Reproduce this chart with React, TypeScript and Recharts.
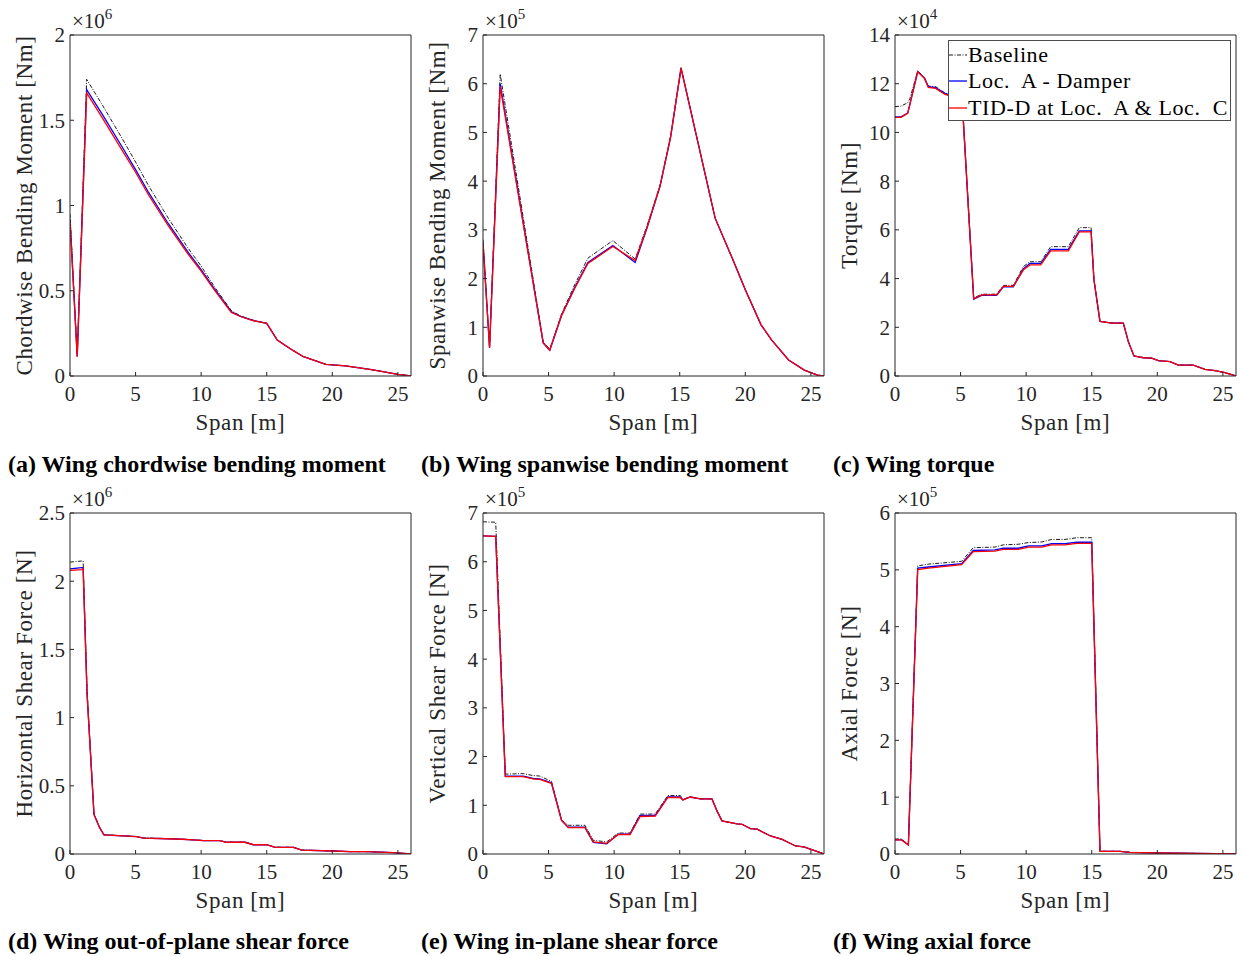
import { LineChart, Line, XAxis, YAxis, Legend, Label } from 'recharts'

const SPAN_TICKS = [0, 5, 10, 15, 20, 25]

// (a) chordwise bending moment, x1e6 Nm
const SPAN_A = [0, 0.55, 1.27, 2.5, 4, 5, 6, 7.5, 9, 10, 11, 12.3, 13, 14, 15, 15.8, 17, 17.8, 19.5, 21, 23, 25, 26]
const BASE_A = [0.95, 0.12, 1.74, 1.585, 1.39, 1.255, 1.115, 0.925, 0.75, 0.645, 0.525, 0.383, 0.352, 0.327, 0.309, 0.212, 0.15, 0.114, 0.069, 0.059, 0.037, 0.01, 0]
const LOCA_A = [0.92, 0.115, 1.68, 1.53, 1.34, 1.21, 1.075, 0.893, 0.726, 0.624, 0.512, 0.377, 0.35, 0.325, 0.309, 0.211, 0.15, 0.113, 0.068, 0.059, 0.037, 0.01, 0]
const TIDD_A = [0.91, 0.113, 1.66, 1.51, 1.32, 1.195, 1.06, 0.88, 0.715, 0.615, 0.505, 0.373, 0.349, 0.324, 0.309, 0.211, 0.15, 0.113, 0.068, 0.059, 0.037, 0.01, 0]
const YTICKS_A = [0, 0.5, 1, 1.5, 2]

// (b) spanwise bending moment, x1e5 Nm
const SPAN_B = [0, 0.5, 1.31, 4.59, 5.09, 6, 7, 8, 9.9, 11.6, 12.5, 13.5, 14.3, 15.1, 17.7, 19, 20, 21.2, 22, 23.3, 24.5, 25.5, 26]
const BASE_B = [2.8, 0.6, 6.2, 0.7, 0.55, 1.28, 1.88, 2.42, 2.78, 2.4, 3.08, 3.92, 4.92, 6.33, 3.24, 2.42, 1.77, 1.05, 0.74, 0.33, 0.12, 0.02, 0]
const LOCA_B = [2.74, 0.58, 6.0, 0.68, 0.53, 1.25, 1.82, 2.33, 2.68, 2.33, 3.03, 3.9, 4.9, 6.32, 3.24, 2.42, 1.77, 1.05, 0.74, 0.33, 0.12, 0.02, 0]
const TIDD_B = [2.72, 0.58, 5.94, 0.68, 0.53, 1.25, 1.8, 2.31, 2.66, 2.37, 3.05, 3.9, 4.9, 6.32, 3.24, 2.42, 1.77, 1.05, 0.74, 0.33, 0.12, 0.02, 0]
const YTICKS_B = [0, 1, 2, 3, 4, 5, 6, 7]

// (c) torque, x1e4 Nm
const SPAN_C = [0, 0.46, 0.97, 1.14, 1.73, 2.24, 2.54, 3.1, 3.81, 4.5, 5.12, 6.0, 6.6, 7.75, 8.26, 9.02, 9.78, 10.29, 11.11, 11.87, 13.22, 14.05, 14.95, 15.17, 15.63, 16.52, 17.41, 17.79, 18.22, 18.93, 19.57, 20.08, 20.97, 21.6, 22.74, 23.63, 24.4, 25.16, 26]
const BASE_C = [11.06, 11.08, 11.22, 11.4, 12.52, 12.25, 11.9, 11.88, 11.62, 11.5, 11.35, 3.2, 3.36, 3.36, 3.72, 3.72, 4.49, 4.69, 4.69, 5.31, 5.31, 6.09, 6.09, 3.96, 2.25, 2.18, 2.18, 1.42, 0.83, 0.76, 0.73, 0.63, 0.59, 0.45, 0.45, 0.27, 0.22, 0.14, 0]
const LOCA_C = [10.64, 10.64, 10.8, 11.17, 12.5, 12.24, 11.88, 11.84, 11.6, 11.48, 11.32, 3.15, 3.31, 3.31, 3.66, 3.66, 4.4, 4.62, 4.62, 5.2, 5.2, 5.96, 5.96, 3.94, 2.24, 2.17, 2.17, 1.41, 0.82, 0.75, 0.73, 0.63, 0.59, 0.45, 0.45, 0.27, 0.22, 0.14, 0]
const TIDD_C = [10.62, 10.62, 10.78, 11.15, 12.49, 12.22, 11.85, 11.81, 11.56, 11.45, 11.3, 3.17, 3.33, 3.33, 3.68, 3.68, 4.35, 4.56, 4.56, 5.14, 5.14, 5.92, 5.92, 3.94, 2.24, 2.17, 2.17, 1.41, 0.82, 0.75, 0.73, 0.63, 0.59, 0.45, 0.45, 0.27, 0.22, 0.14, 0]
const YTICKS_C = [0, 2, 4, 6, 8, 10, 12, 14]

// (d) out-of-plane (horizontal) shear, x1e6 N
const SPAN_D = [0, 0.89, 1.0, 1.3, 1.83, 2.24, 2.59, 5.08, 5.6, 8.13, 9.4, 10.17, 11.4, 11.94, 13.34, 13.98, 15.0, 15.63, 17.03, 17.66, 20.08, 21.35, 22.6, 24.65, 26]
const BASE_D = [2.14, 2.148, 2.15, 1.2, 0.295, 0.2, 0.142, 0.128, 0.118, 0.111, 0.104, 0.099, 0.099, 0.087, 0.087, 0.069, 0.069, 0.05, 0.05, 0.03, 0.022, 0.017, 0.017, 0.01, 0]
const LOCA_D = [2.09, 2.1, 2.1, 1.18, 0.29, 0.196, 0.14, 0.127, 0.117, 0.11, 0.103, 0.098, 0.098, 0.086, 0.086, 0.068, 0.068, 0.049, 0.049, 0.029, 0.022, 0.017, 0.017, 0.01, 0]
const TIDD_D = [2.079, 2.085, 2.095, 1.17, 0.29, 0.196, 0.14, 0.127, 0.117, 0.11, 0.103, 0.098, 0.098, 0.086, 0.086, 0.068, 0.068, 0.049, 0.049, 0.029, 0.022, 0.017, 0.017, 0.01, 0]
const YTICKS_D = [0, 0.5, 1, 1.5, 2, 2.5]

// (e) in-plane (vertical) shear, x1e5 N
const SPAN_E = [0, 0.97, 1.7, 3.06, 3.82, 4.33, 5.22, 5.99, 6.5, 7.77, 8.41, 9.43, 10.32, 11.21, 11.98, 13.13, 14.09, 15.04, 15.24, 15.8, 16.57, 17.46, 17.84, 18.22, 19.37, 19.75, 20.39, 20.9, 21.92, 22.81, 23.83, 24.47, 25.23, 26]
const BASE_E = [6.82, 6.81, 1.64, 1.65, 1.61, 1.6, 1.49, 0.7, 0.59, 0.59, 0.28, 0.25, 0.43, 0.43, 0.82, 0.82, 1.2, 1.2, 1.12, 1.17, 1.13, 1.13, 0.885, 0.68, 0.62, 0.61, 0.52, 0.51, 0.37, 0.3, 0.165, 0.145, 0.075, 0]
const LOCA_E = [6.53, 6.52, 1.6, 1.6, 1.55, 1.54, 1.46, 0.69, 0.55, 0.55, 0.24, 0.21, 0.41, 0.41, 0.79, 0.79, 1.17, 1.17, 1.11, 1.17, 1.13, 1.13, 0.885, 0.68, 0.62, 0.61, 0.52, 0.51, 0.37, 0.3, 0.165, 0.145, 0.075, 0]
const TIDD_E = [6.53, 6.52, 1.59, 1.59, 1.54, 1.53, 1.45, 0.69, 0.54, 0.54, 0.25, 0.22, 0.4, 0.4, 0.77, 0.78, 1.16, 1.16, 1.11, 1.17, 1.13, 1.13, 0.885, 0.68, 0.62, 0.61, 0.52, 0.51, 0.37, 0.3, 0.165, 0.145, 0.075, 0]
const YTICKS_E = [0, 1, 2, 3, 4, 5, 6, 7]

// (f) axial force, x1e5 N
const SPAN_F = [0, 0.5, 1.02, 1.73, 2.54, 5.08, 5.97, 7.62, 8.26, 9.4, 10.17, 11.19, 11.95, 12.97, 13.85, 15.0, 15.63, 17.15, 17.9, 20.08, 23, 26]
const BASE_F = [0.264, 0.264, 0.165, 5.07, 5.1, 5.15, 5.39, 5.4, 5.44, 5.45, 5.48, 5.49, 5.535, 5.535, 5.565, 5.565, 0.05, 0.048, 0.03, 0.018, 0.01, 0]
const LOCA_F = [0.25, 0.25, 0.16, 5.03, 5.05, 5.11, 5.34, 5.35, 5.38, 5.38, 5.42, 5.42, 5.46, 5.46, 5.485, 5.485, 0.047, 0.047, 0.03, 0.018, 0.01, 0]
const TIDD_F = [0.247, 0.247, 0.159, 5.006, 5.03, 5.09, 5.32, 5.33, 5.36, 5.36, 5.4, 5.4, 5.44, 5.44, 5.465, 5.465, 0.047, 0.047, 0.03, 0.018, 0.01, 0]
const YTICKS_F = [0, 1, 2, 3, 4, 5, 6]

const SERIES = [
  { key: 'base', name: 'Baseline', color: '#000000', width: 0.9, dash: '4 1.5 1 1.5' },
  { key: 'locA', name: 'Loc.  A - Damper', color: '#0000ff', width: 1.3, dash: undefined },
  { key: 'tidd', name: 'TID-D at Loc.  A & Loc.  C', color: '#ff0000', width: 1.3, dash: undefined },
]

const FONT = '"Liberation Serif", "Times New Roman", serif'
const INK = '#262626'
const SIDE = 341 // plot box, px
const GUTTER_L = 70
const GUTTER_T = 35

interface PanelCfg {
  id: string
  span: number[]
  base: number[]
  locA: number[]
  tidd: number[]
  yTicks: number[]
  exp: number
  yLabel: string
  caption: string
  plotX: number
  plotY: number
  legend?: boolean
}

const PANELS: PanelCfg[] = [
  { id: 'a', span: SPAN_A, base: BASE_A, locA: LOCA_A, tidd: TIDD_A, yTicks: YTICKS_A, exp: 6, yLabel: 'Chordwise Bending Moment [Nm]', caption: '(a) Wing chordwise bending moment', plotX: 70, plotY: 35 },
  { id: 'b', span: SPAN_B, base: BASE_B, locA: LOCA_B, tidd: TIDD_B, yTicks: YTICKS_B, exp: 5, yLabel: 'Spanwise Bending Moment [Nm]', caption: '(b) Wing spanwise bending moment', plotX: 483, plotY: 35 },
  { id: 'c', span: SPAN_C, base: BASE_C, locA: LOCA_C, tidd: TIDD_C, yTicks: YTICKS_C, exp: 4, yLabel: 'Torque [Nm]', caption: '(c) Wing torque', plotX: 895, plotY: 35, legend: true },
  { id: 'd', span: SPAN_D, base: BASE_D, locA: LOCA_D, tidd: TIDD_D, yTicks: YTICKS_D, exp: 6, yLabel: 'Horizontal Shear Force [N]', caption: '(d) Wing out-of-plane shear force', plotX: 70, plotY: 513 },
  { id: 'e', span: SPAN_E, base: BASE_E, locA: LOCA_E, tidd: TIDD_E, yTicks: YTICKS_E, exp: 5, yLabel: 'Vertical Shear Force [N]', caption: '(e) Wing in-plane shear force', plotX: 483, plotY: 513 },
  { id: 'f', span: SPAN_F, base: BASE_F, locA: LOCA_F, tidd: TIDD_F, yTicks: YTICKS_F, exp: 5, yLabel: 'Axial Force [N]', caption: '(f) Wing axial force', plotX: 895, plotY: 513 },
]

const CAPTION_X = [8, 421, 833]

function LegendBox({ payload }: { payload?: any[] }) {
  const rows = payload ?? []
  return (
    <div
      style={{
        width: 283,
        height: 81,
        boxSizing: 'border-box',
        border: '1px solid #4d4d4d',
        background: '#fff',
        fontFamily: FONT,
        fontSize: 22,
        letterSpacing: 0.6,
        color: '#000',
        paddingTop: 1,
      }}
    >
      {rows.map((r) => {
        const s = SERIES.find((x) => x.key === r.dataKey)
        return (
          <div key={r.dataKey} style={{ height: 26.3, display: 'flex', alignItems: 'center', whiteSpace: 'pre' }}>
            <svg width={19} height={10} style={{ flex: 'none' }}>
              <line x1={0} x2={18} y1={5} y2={5} stroke={r.color} strokeWidth={s?.width ?? 1} strokeDasharray={s?.dash} />
            </svg>
            <span>{r.value}</span>
          </div>
        )
      })}
    </div>
  )
}

function WingPanel({ p }: { p: PanelCfg }) {
  const rows = p.span.map((x, i) => ({ x, base: p.base[i], locA: p.locA[i], tidd: p.tidd[i] }))
  const yMax = p.yTicks[p.yTicks.length - 1]
  const left = p.plotX - GUTTER_L
  const top = p.plotY - GUTTER_T
  const width = GUTTER_L + SIDE + 5
  const height = GUTTER_T + SIDE + 60
  const tickFont = { fontFamily: FONT, fontSize: 21, fill: INK }

  return (
    <div style={{ position: 'absolute', left, top }}>
      <LineChart width={width} height={height} data={rows} margin={{ top: GUTTER_T - 1, left: 10, right: 4, bottom: 20 }}>
        <XAxis
          xAxisId="b"
          dataKey="x"
          type="number"
          domain={[0, 26]}
          ticks={SPAN_TICKS}
          allowDataOverflow
          height={40}
          tickSize={-4}
          tickMargin={14}
          stroke={INK}
          tick={tickFont}
        >
          <Label
            content={({ viewBox }: any) => (
              <text
                x={viewBox.x + viewBox.width / 2}
                y={viewBox.y + 46}
                textAnchor="middle"
                dominantBaseline="central"
                fontFamily={FONT}
                fontSize={23}
                letterSpacing={0.6}
                fill={INK}
              >
                Span [m]
              </text>
            )}
          />
        </XAxis>
        {/* top edge of the box: inward ticks only */}
        <XAxis
          xAxisId="t"
          orientation="top"
          dataKey="x"
          type="number"
          domain={[0, 26]}
          ticks={SPAN_TICKS}
          allowDataOverflow
          height={1}
          tickSize={-4}
          tick={false}
          stroke={INK}
        />
        <YAxis
          yAxisId="l"
          type="number"
          domain={[0, yMax]}
          ticks={p.yTicks}
          allowDataOverflow
          width={60}
          tickSize={-4}
          tickMargin={9}
          stroke={INK}
          tick={tickFont}
        >
          <Label
            content={({ viewBox }: any) => {
              const px = viewBox.x + viewBox.width
              const cy = viewBox.y + viewBox.height / 2
              const lx = px - 46
              return (
                <g>
                  <text
                    x={lx}
                    y={cy}
                    transform={`rotate(-90 ${lx} ${cy})`}
                    textAnchor="middle"
                    dominantBaseline="central"
                    fontFamily={FONT}
                    fontSize={23}
                    letterSpacing={0.6}
                    fill={INK}
                  >
                    {p.yLabel}
                  </text>
                  <text x={px + 2} y={viewBox.y - 7} fontFamily={FONT} fontSize={21} fill={INK}>
                    ×10
                    <tspan dy={-9} fontSize={15}>
                      {p.exp}
                    </tspan>
                  </text>
                </g>
              )
            }}
          />
        </YAxis>
        {/* right edge of the box */}
        <YAxis
          yAxisId="r"
          orientation="right"
          type="number"
          domain={[0, yMax]}
          ticks={p.yTicks}
          allowDataOverflow
          width={1}
          tickSize={-4}
          tick={false}
          stroke={INK}
        />
        {SERIES.map((s) => (
          <Line
            key={s.key}
            xAxisId="b"
            yAxisId="l"
            type="linear"
            dataKey={s.key}
            name={s.name}
            stroke={s.color}
            strokeWidth={s.width}
            strokeDasharray={s.dash}
            dot={false}
            activeDot={false}
            isAnimationActive={false}
          />
        ))}
        {p.legend && (
          <Legend
            layout="vertical"
            align="center"
            verticalAlign="middle"
            content={(props: any) => <LegendBox payload={props.payload} />}
            wrapperStyle={{ position: 'absolute', left: 948 - left, top: 40 - top, width: 283, height: 81 }}
          />
        )}
      </LineChart>
    </div>
  )
}

export default function App() {
  return (
    <div style={{ position: 'absolute', left: 0, top: 0, width: 1244, height: 956, background: '#fff', overflow: 'hidden' }}>
      {PANELS.map((p) => (
        <WingPanel key={p.id} p={p} />
      ))}
      {PANELS.map((p, i) => (
        <div
          key={`cap-${p.id}`}
          style={{
            position: 'absolute',
            left: CAPTION_X[i % 3],
            top: i < 3 ? 452 : 929,
            fontFamily: FONT,
            fontWeight: 'bold',
            fontSize: 24,
            lineHeight: '24px',
            whiteSpace: 'nowrap',
            color: '#000',
          }}
        >
          {p.caption}
        </div>
      ))}
    </div>
  )
}
